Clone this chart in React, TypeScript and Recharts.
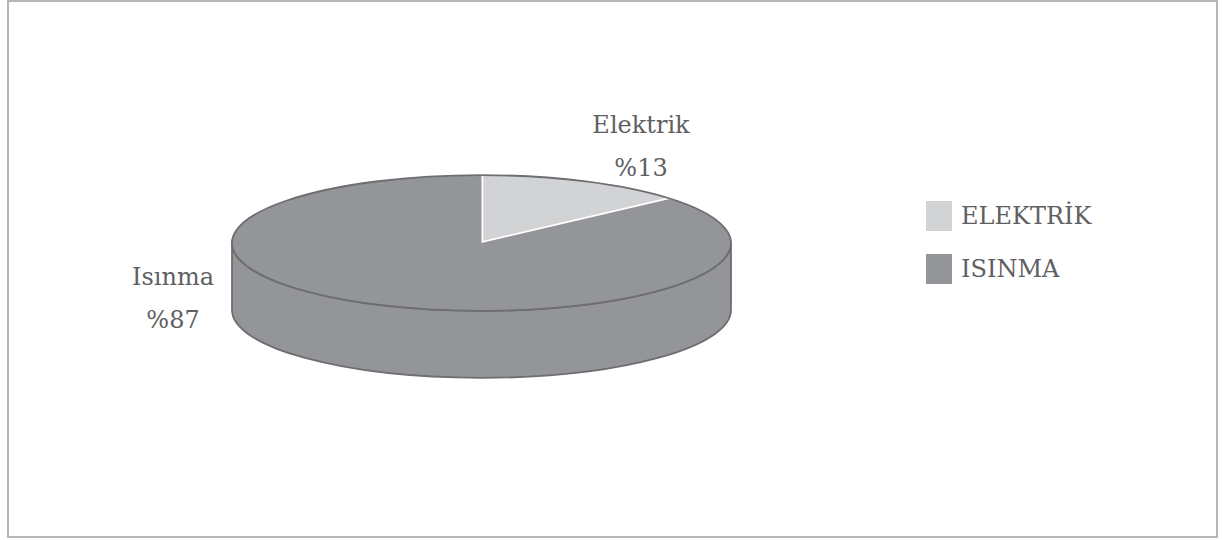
import { Legend, Pie, PieChart } from "recharts";

const names = ["Elektrik", "Isınma"];
const legendNames = ["ELEKTRİK", "ISINMA"];
const values = [13.7, 86.3];
const printedLabels = ["%13", "%87"];
const colors = ["#d1d3d4", "#939598"];

const rows = names.map((name, i) => ({
  name,
  legendName: legendNames[i],
  printed: printedLabels[i],
  value: values[i],
  fill: colors[i],
}));

const EDGE = "#6d6e71";
const TEXT = "#5f6062";
const FONT = "'DejaVu Serif', serif";

const SQUASH = 0.272;
const DEPTH = 67;

const RAD = Math.PI / 180;

function Slice3D(props: any) {
  const { cx, cy, outerRadius, startAngle, endAngle, fill, index } = props;
  const rx = outerRadius;
  const ry = outerRadius * SQUASH;
  const px = (a: number) => cx + rx * Math.cos(a * RAD);
  const py = (a: number) => cy - ry * Math.sin(a * RAD);
  const large = Math.abs(startAngle - endAngle) > 180 ? 1 : 0;
  const arc = `M${px(startAngle)},${py(startAngle)} A${rx},${ry} 0 ${large} 1 ${px(endAngle)},${py(endAngle)}`;

  // side wall, only the part of the slice that faces the viewer
  const wallStart = Math.min(startAngle, 0);
  const wallEnd = Math.max(endAngle, -180);
  const hasWall = wallStart > wallEnd;
  const wall = `M${px(wallStart)},${py(wallStart)} A${rx},${ry} 0 0 1 ${px(wallEnd)},${py(wallEnd)} L${px(wallEnd)},${py(wallEnd) + DEPTH} A${rx},${ry} 0 0 0 ${px(wallStart)},${py(wallStart) + DEPTH} Z`;

  return (
    <g>
      {hasWall && <path d={wall} fill={fill} stroke={EDGE} strokeWidth={1.8} strokeLinejoin="round" />}
      <path d={`${arc} L${cx},${cy} Z`} fill={fill} stroke="none" />
      {index === 0 && (
        <path
          d={`M${px(startAngle)},${py(startAngle)} L${cx},${cy} L${px(endAngle)},${py(endAngle)}`}
          fill="none"
          stroke="#ffffff"
          strokeWidth={3.5}
        />
      )}
      <path d={arc} fill="none" stroke={EDGE} strokeWidth={1.8} />
    </g>
  );
}

// label anchors relative to pie centre
const labelSpots = [
  { dx: 159.5, dy: -118 },
  { dx: -308.5, dy: 34 },
];

function SliceLabel(props: any) {
  const { cx, cy, index, name, payload } = props;
  const spot = labelSpots[index];
  const x = cx + spot.dx;
  const y = cy + spot.dy;
  return (
    <text x={x} y={y} textAnchor="middle" fill={TEXT} fontFamily={FONT} fontSize={24}>
      <tspan x={x} dy={8}>{name}</tspan>
      <tspan x={x} dy={42.5}>{payload.printed}</tspan>
    </text>
  );
}

function LegendBox({ payload }: any) {
  return (
    <div>
      {(payload || []).map((item: any) => (
        <div key={item.value} style={{ display: "flex", alignItems: "center", height: 30, marginBottom: 23 }}>
          <div style={{ width: 26, height: 30, background: item.color, marginRight: 9 }} />
          <span style={{ fontFamily: FONT, fontSize: 24, color: TEXT, lineHeight: "30px" }}>
            {item.payload.legendName}
          </span>
        </div>
      ))}
    </div>
  );
}

export default function App() {
  return (
    <div style={{ position: "absolute", left: 0, top: 0, width: 1222, height: 540, background: "#fff" }}>
      <div
        style={{
          position: "absolute",
          left: 7,
          top: 0,
          width: 1211,
          height: 538,
          boxSizing: "border-box",
          border: "2px solid #b5b6b8",
        }}
      />
      <PieChart width={1222} height={540} margin={{ top: 0, right: 0, bottom: 0, left: 0 }}>
        <Pie
          data={rows}
          dataKey="value"
          nameKey="name"
          cx={481.5}
          cy={243}
          outerRadius={249.5}
          startAngle={90}
          endAngle={-270}
          stroke="none"
          shape={Slice3D}
          label={SliceLabel}
          labelLine={false}
          isAnimationActive={false}
        />
        <Legend
          content={LegendBox}
          wrapperStyle={{ position: "absolute", left: 926, top: 201, width: 220, bottom: "auto" }}
        />
      </PieChart>
    </div>
  );
}
